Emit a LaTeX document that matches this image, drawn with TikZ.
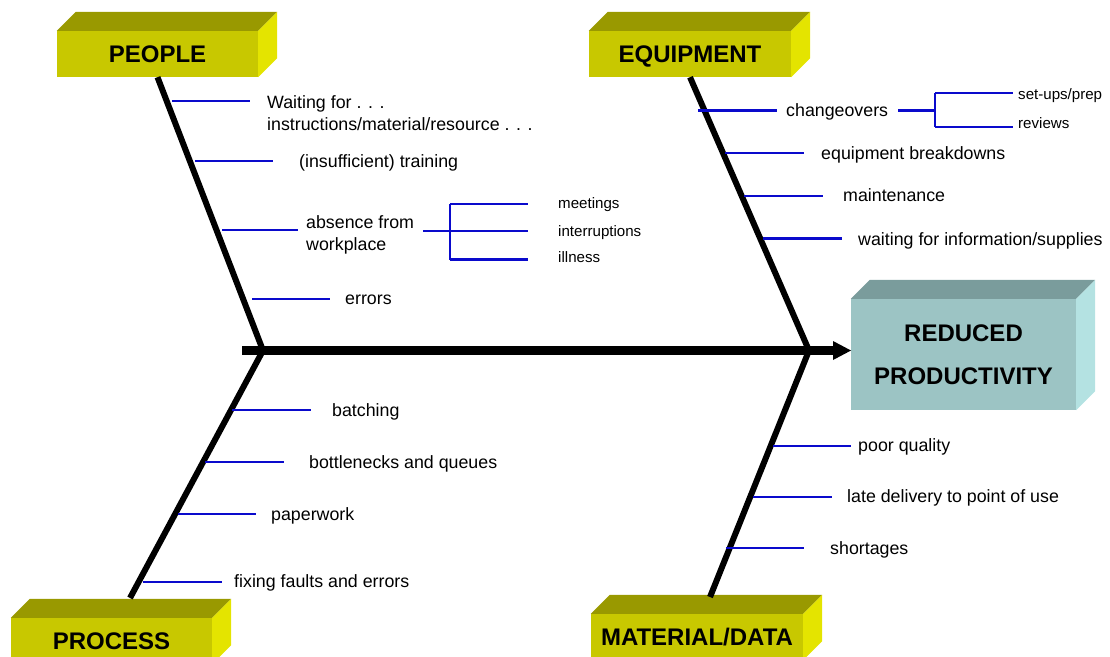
\documentclass[tikz,border=0pt]{standalone}
\usepackage{fontspec}
\setmainfont{Liberation Sans}
\usetikzlibrary{calc}
\definecolor{yfront}{HTML}{C8C800}
\definecolor{ytop}{HTML}{999900}
\definecolor{yside}{HTML}{E4E400}
\definecolor{tfront}{HTML}{9CC4C4}
\definecolor{ttop}{HTML}{7A9C9C}
\definecolor{tside}{HTML}{B4E2E2}
\definecolor{twigblue}{HTML}{0A0ACC}
\tikzset{
  boxfront/.style={inner sep=0pt, font=\fontsize{24}{28}\selectfont\bfseries},
  capbox/.style={text height=17.2pt, text depth=0pt},
  bone/.style={line width=6pt},
  spine/.style={line width=9pt},
  twig/.style={draw=twigblue, line width=2.8pt},
  lbl/.style={anchor=base west, inner sep=0pt, font=\fontsize{17.8}{22}\selectfont},
  slbl/.style={anchor=base west, inner sep=0pt, font=\fontsize{15.1}{18}\selectfont},
}
\newcommand{\boxfaces}[3]{% node, top colour, side colour
  \fill[#2] (#1.north west) -- ([shift={(19,-19)}]#1.north west) -- ([shift={(19,-19)}]#1.north east) -- (#1.north east) -- cycle;
  \fill[#3] (#1.north east) -- ([shift={(19,-19)}]#1.north east) -- ([shift={(19,-19)}]#1.south east) -- (#1.south east) -- cycle;
}
\begin{document}
\begin{tikzpicture}[x=1pt,y=-1pt]
\useasboundingbox (0,0) rectangle (1110,656);
\clip (0,0) rectangle (1110,656);
% boxes
\node[boxfront, capbox, fill=yfront, minimum width=201, minimum height=46] (people) at (157.5,54) {PEOPLE};
\boxfaces{people}{ytop}{yside}
\node[boxfront, capbox, fill=yfront, minimum width=202, minimum height=46] (equip) at (690,54) {EQUIPMENT};
\boxfaces{equip}{ytop}{yside}
\node[boxfront, capbox, fill=yfront, minimum width=201, minimum height=46] (process) at (111.5,641) {PROCESS};
\boxfaces{process}{ytop}{yside}
\node[boxfront, capbox, fill=yfront, minimum width=212, minimum height=46] (material) at (697,637) {MATERIAL/DATA};
\boxfaces{material}{ytop}{yside}
\node[boxfront, fill=tfront, minimum width=225, minimum height=111, align=center,
      font=\fontsize{24}{43}\selectfont\bfseries] (effect) at (963.5,354.5) {REDUCED\\PRODUCTIVITY};
\boxfaces{effect}{ttop}{tside}
% spine and bones
\coordinate (jl) at (263,350.5);
\coordinate (jr) at (809,350.5);
\coordinate (pend) at (130,598);
\coordinate (mend) at (710,597);
\coordinate (spstart) at (242,350.5);
\coordinate (spend) at (834,350.5);
\draw[spine] (spstart) -- (spend);
\fill (spend) ++(-1,-9.5) -- ++(18,9.5) -- ++(-18,9.5) -- cycle;
\draw[bone] (people.south) -- (jl);
\draw[bone] (jl) -- (pend);
\draw[bone] (equip.south) -- (jr);
\draw[bone] (jr) -- (mend);
% PEOPLE causes
\draw[twig] (172,101) -- (250,101);
\node[lbl] (p1a) at (267,108) {Waiting for . . .};
\node[lbl] (p1b) at (267,130) {instructions/material/resource . . .};
\draw[twig] (195,161) -- (273,161);
\node[lbl] (p2) at (299,167) {(insufficient) training};
\draw[twig] (222,230) -- (298,230);
\node[lbl] (p3a) at (306,228) {absence from};
\node[lbl] (p3b) at (306,250) {workplace};
\coordinate (bp) at (450,231);
\draw[twig] (423,231) -- (bp);
\draw[twig] (450,204) -- (450,259.5);
\draw[twig] (450,204) -- (528,204);
\draw[twig] (bp) -- (528,231);
\draw[twig] (450,259.5) -- (528,259.5);
\node[slbl] (p3c) at (558,208.5) {meetings};
\node[slbl] (p3d) at (558,236) {interruptions};
\node[slbl] (p3e) at (558,262.5) {illness};
\draw[twig] (252,299) -- (330,299);
\node[lbl] (p4) at (345,304.5) {errors};
% EQUIPMENT causes
\draw[twig] (698,110.5) -- (777,110.5);
\node[lbl] (e1) at (786,116.5) {changeovers};
\coordinate (be) at (935,110.5);
\draw[twig] (898,110.5) -- (be);
\draw[twig] (935,93) -- (935,127);
\draw[twig] (935,93) -- (1013,93);
\draw[twig] (935,127) -- (1013,127);
\node[slbl] (e1a) at (1018,99) {set-ups/prep};
\node[slbl] (e1b) at (1018,128.5) {reviews};
\draw[twig] (725,153) -- (804,153);
\node[lbl] (e2) at (821,159) {equipment breakdowns};
\draw[twig] (744,196) -- (823,196);
\node[lbl] (e3) at (843,201.5) {maintenance};
\draw[twig] (763,238.5) -- (842,238.5);
\node[lbl] (e4) at (858,245) {waiting for information/supplies};
% PROCESS causes
\draw[twig] (232,410) -- (311,410);
\node[lbl] (r1) at (332,416) {batching};
\draw[twig] (205,462) -- (284,462);
\node[lbl] (r2) at (309,468) {bottlenecks and queues};
\draw[twig] (178,514) -- (256,514);
\node[lbl] (r3) at (271,520) {paperwork};
\draw[twig] (143,582) -- (222,582);
\node[lbl] (r4) at (234,587.5) {fixing faults and errors};
% MATERIAL causes
\draw[twig] (773,446) -- (851,446);
\node[lbl] (m1) at (858,451.5) {poor quality};
\draw[twig] (753,497) -- (832,497);
\node[lbl] (m2) at (847,502.5) {late delivery to point of use};
\draw[twig] (726,548) -- (804,548);
\node[lbl] (m3) at (830,554) {shortages};
\end{tikzpicture}
\end{document}
